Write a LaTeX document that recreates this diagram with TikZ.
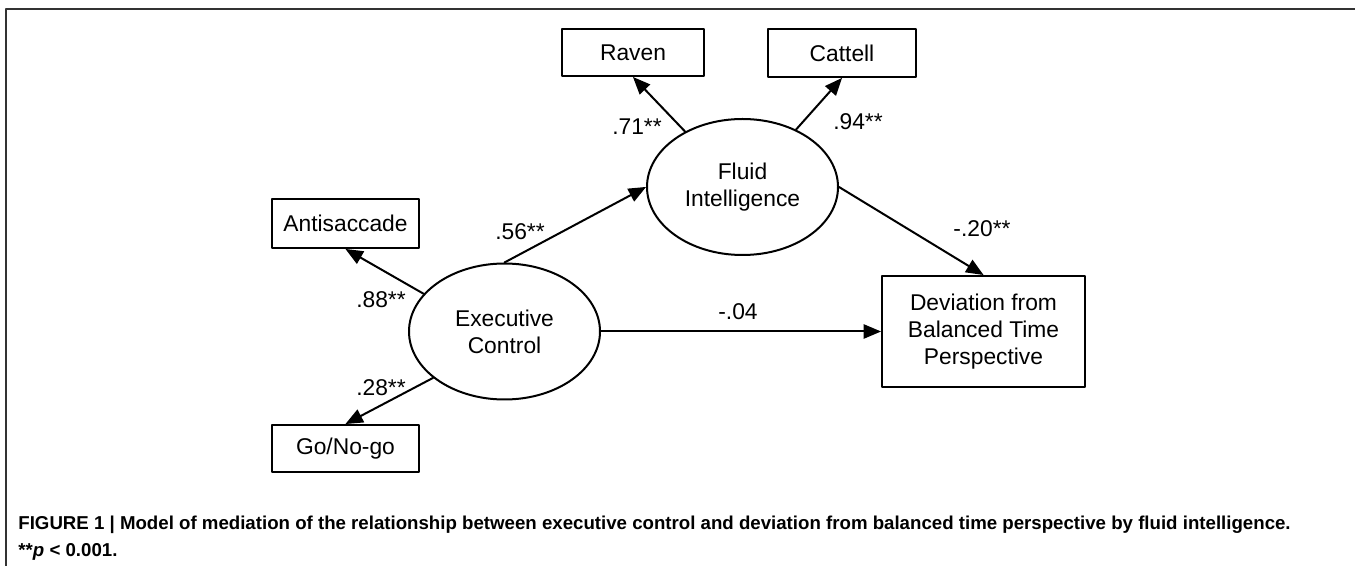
\documentclass[tikz,border=0pt]{standalone}
\usepackage{fontspec}
\setmainfont{Liberation Sans}
\usetikzlibrary{arrows,shapes.geometric}

\begin{document}
\begin{tikzpicture}[line cap=round,line join=round,>=triangle 45,x=0.5pt,y=-0.5pt,
		txt/.style={font=\fontsize{11.4}{13.5}\selectfont},
		obs/.style={txt,draw,line width=1pt,rectangle,inner sep=0pt,align=center},
		lat/.style={txt,draw,line width=1pt,ellipse,inner sep=0pt,align=center,minimum width=95.5pt,minimum height=68pt},
		effect/.style={->,line width=1pt},
		coef/.style={txt,inner sep=0pt}]
		\useasboundingbox (0,0) rectangle (1355,566);
		\draw [line width=0.75pt,color=black!80] (6,566)-- (6,9)-- (1355,9);
		% observed measures
		\node[obs,minimum width=71pt,minimum height=23.5pt] (raven) at (633,52.5) {Raven};
		\node[obs,minimum width=74pt,minimum height=24pt] (cattell) at (842,53) {Cattell};
		\node[obs,minimum width=73.5pt,minimum height=24.5pt] (anti) at (345.5,223.5) {Antisaccade};
		\node[obs,minimum width=73.5pt,minimum height=23.5pt] (gonogo) at (345.5,448.5) {Go/No-go};
		\node[obs,minimum width=101.5pt,minimum height=55.5pt] (dbtp) at (983.5,331.5) {Deviation from\\Balanced Time\\Perspective};
		% latent variables
		\node[lat] (fluid) at (742.5,187) {Fluid\\Intelligence};
		\node[lat] (exec) at (504.5,331.5) {Executive\\Control};
		% paths
		\draw [effect] (fluid.136)-- (raven.south);
		\draw [effect] (fluid.47)-- (cattell.south);
		\draw [effect] (exec.155)-- (anti.south);
		\draw [effect] (exec.213.5)-- (gonogo.north);
		\draw [effect] (exec.north)-- (fluid.west);
		\draw [effect] (fluid.east)-- (dbtp.north);
		\draw [effect] (exec.east)-- (dbtp.west);
		% coefficients
		\node[coef] (c71) at (637,127) {.71**};
		\node[coef] (c94) at (858,122) {.94**};
		\node[coef] (c56) at (520,232) {.56**};
		\node[coef] (c88) at (381,300) {.88**};
		\node[coef] (c28) at (381,388) {.28**};
		\node[coef] (c20) at (982,229) {-.20**};
		\node[coef] (c04) at (738,312) {-.04};
		% caption
		\node[anchor=west,align=left,inner sep=0pt,font=\bfseries\fontsize{9.33}{13.5}\selectfont] (caption) at (18,538.5) {FIGURE 1 | Model of mediation of the relationship between executive control and deviation from balanced time perspective by fluid intelligence.\\**\textit{p} < 0.001.};
	\end{tikzpicture}
\end{document}
